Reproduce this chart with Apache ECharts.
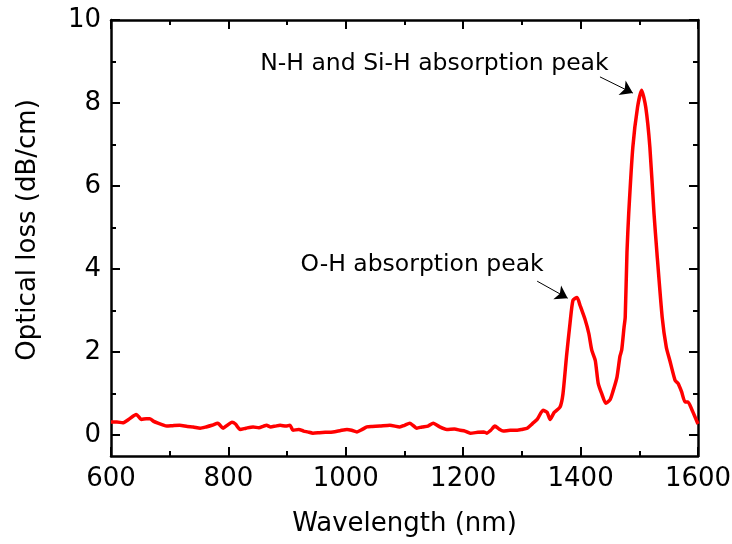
<!DOCTYPE html>
<html>
<head>
<meta charset="utf-8">
<script src="https://cdn.jsdelivr.net/npm/echarts@6/dist/echarts.min.js"></script>
<style>
  html, body { margin: 0; padding: 0; background: #fff; }
  #plot { width: 732px; height: 544px; }
</style>
</head>
<body>
<div id="plot"></div>
<script>
// wavelength (nm) and optical loss (dB/cm)
var wavelength = [600, 610, 620, 630, 643, 652, 660, 666, 672, 680, 688, 695, 705, 717, 730, 740, 752, 762, 772, 782,
  791, 798, 806, 812, 820, 830, 842, 852, 860, 865, 872, 880, 888, 898, 905, 910, 920, 928, 935, 944,
  955, 965, 978, 990, 1002, 1010, 1019, 1028, 1036, 1045, 1058, 1075, 1092, 1100, 1109, 1121, 1130, 1140, 1149, 1160,
  1172, 1185, 1195, 1203, 1212, 1225, 1235, 1240, 1247, 1254, 1261, 1268, 1280, 1292, 1300, 1309, 1318, 1326, 1336, 1343,
  1348, 1355, 1365, 1370, 1376, 1382, 1387, 1394, 1399, 1408, 1414, 1419, 1425, 1430, 1436, 1443, 1450, 1455, 1462, 1467,
  1470, 1474, 1476, 1479, 1482, 1489, 1497, 1504, 1511, 1518, 1525, 1530, 1539, 1546, 1552, 1561, 1566, 1572, 1578, 1583,
  1590, 1600];
var loss = [0.32, 0.32, 0.30, 0.38, 0.50, 0.38, 0.40, 0.40, 0.34, 0.29, 0.25, 0.22, 0.23, 0.24, 0.21, 0.20, 0.17, 0.20, 0.24, 0.29,
  0.17, 0.24, 0.31, 0.27, 0.14, 0.17, 0.20, 0.18, 0.22, 0.24, 0.20, 0.22, 0.24, 0.22, 0.24, 0.12, 0.14, 0.10, 0.08, 0.05,
  0.06, 0.07, 0.08, 0.11, 0.14, 0.12, 0.08, 0.14, 0.20, 0.21, 0.22, 0.24, 0.20, 0.24, 0.29, 0.17, 0.20, 0.22, 0.29, 0.20,
  0.14, 0.15, 0.12, 0.10, 0.05, 0.07, 0.08, 0.05, 0.12, 0.22, 0.15, 0.10, 0.12, 0.12, 0.14, 0.17, 0.28, 0.38, 0.60, 0.55,
  0.38, 0.55, 0.68, 1.00, 1.90, 2.70, 3.25, 3.32, 3.13, 2.77, 2.45, 2.05, 1.80, 1.25, 1.00, 0.77, 0.85, 1.05, 1.40, 1.90,
  2.05, 2.60, 2.84, 4.40, 5.35, 6.94, 7.90, 8.31, 7.90, 6.94, 5.35, 4.40, 2.84, 2.12, 1.80, 1.32, 1.25, 1.05, 0.80, 0.80,
  0.60, 0.27];

var yMajorTicks = [0, 2, 4, 6, 8, 10];
var yMinorTicks = [1, 3, 5, 7, 9];

// annotations (data coordinates)
var annotTexts = ['N-H and Si-H absorption peak', 'O-H absorption peak'];
var annotPos = [[1151, 8.94], [1130, 4.1]];
var arrowFrom = [[1433, 8.63], [1326, 3.71]];
var arrowTo = [[1489, 8.24], [1378, 3.30]];

var font = 'DejaVu Sans';

var seriesData = wavelength.map(function (w, i) { return [w, loss[i]]; });

var myChart = echarts.init(document.getElementById('plot'));

function xAxisDef(pos, labels) {
  return {
    type: 'value', position: pos, min: 600, max: 1600, interval: 200,
    name: labels ? 'Wavelength (nm)' : '', nameLocation: 'middle', nameGap: 55,
    nameTextStyle: { fontFamily: font, fontSize: 26, color: '#000' },
    axisLine: { show: true, onZero: false, lineStyle: { color: '#000', width: 2.5 } },
    axisTick: { show: true, inside: true, length: 9, lineStyle: { color: '#000', width: 2 } },
    minorTick: { show: true, splitNumber: 2, length: 5, lineStyle: { color: '#000', width: 2 } },
    axisLabel: { show: labels, margin: 10, fontFamily: font, fontSize: 26, color: '#000',
      formatter: function (v) { return String(v); } },
    splitLine: { show: false }, minorSplitLine: { show: false }
  };
}

function yAxisDef(pos, ticks, len, labels, line) {
  return {
    type: 'value', position: pos, min: -0.5, max: 10,
    name: labels ? 'Optical loss (dB/cm)' : '', nameLocation: 'middle', nameGap: 70,
    nameTextStyle: { fontFamily: font, fontSize: 26, color: '#000', padding: [0, 0, 0, 16] },
    axisLine: { show: line, onZero: false, lineStyle: { color: '#000', width: 2.5 } },
    axisTick: { show: true, inside: true, length: len, customValues: ticks, lineStyle: { color: '#000', width: 2 } },
    axisLabel: { show: labels, margin: 10, customValues: yMajorTicks, fontFamily: font, fontSize: 26, color: '#000' },
    splitLine: { show: false }
  };
}

var option = {
  animation: false,
  grid: { left: 111, right: 34, top: 20, bottom: 88, containLabel: false, outerBoundsMode: 'none' },
  xAxis: [xAxisDef('bottom', true), xAxisDef('top', false)],
  yAxis: [
    yAxisDef('left', yMajorTicks, 9, true, true),
    yAxisDef('left', yMinorTicks, 5, false, false),
    yAxisDef('right', yMajorTicks, 9, false, true),
    yAxisDef('right', yMinorTicks, 5, false, false)
  ],
  series: [{
    type: 'line',
    xAxisIndex: 0, yAxisIndex: 0,
    data: seriesData,
    showSymbol: false,
    symbol: 'none',
    smooth: 0.2,
    lineStyle: { color: '#ff0000', width: 3.5 },
    markLine: {
      silent: true,
      symbol: ['none', 'arrow'],
      symbolSize: 12,
      label: { show: false },
      lineStyle: { color: '#000', width: 1, type: 'solid' },
      data: arrowFrom.map(function (p, i) {
        return [{ coord: p }, { coord: arrowTo[i] }];
      })
    },
    markPoint: {
      silent: true,
      symbol: 'rect',
      symbolSize: 1,
      itemStyle: { color: 'rgba(0,0,0,0)' },
      label: { show: true, position: 'inside', fontFamily: font, fontSize: 23.5, color: '#000' },
      data: annotTexts.map(function (t, i) {
        return { coord: annotPos[i], value: t, label: { formatter: t } };
      })
    }
  }]
};

myChart.setOption(option);
</script>
</body>
</html>
